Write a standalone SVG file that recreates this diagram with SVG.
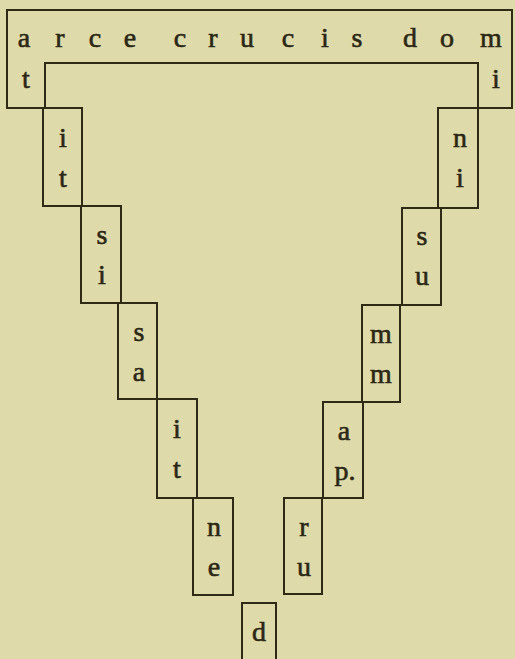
<svg xmlns="http://www.w3.org/2000/svg" width="515" height="659" viewBox="0 0 515 659">
<style>
.ln{fill:none;stroke:#2e2a16;stroke-width:2;stroke-linejoin:miter}
.t{font-family:"Liberation Serif","Times New Roman",serif;font-size:28px;fill:#2b2715;stroke:#2b2715;stroke-width:0.6;text-anchor:middle}
</style>
<rect width="515" height="659" fill="#dedaa9"/>
<g id="top">
<path class="ln" d="M7,10 H512 V108 H478 V63 H45 V108 H7 Z"/>
<text class="t" x="24" y="47">a</text>
<text class="t" x="60" y="47">r</text>
<text class="t" x="95" y="47">c</text>
<text class="t" x="130" y="47">e</text>
<text class="t" x="180" y="47">c</text>
<text class="t" x="213" y="47">r</text>
<text class="t" x="247" y="47">u</text>
<text class="t" x="288" y="47">c</text>
<text class="t" x="325" y="47">i</text>
<text class="t" x="357" y="47">s</text>
<text class="t" x="410" y="47">d</text>
<text class="t" x="447" y="47">o</text>
<text class="t" x="491" y="47">m</text>
<text class="t" x="26" y="88">t</text>
<text class="t" x="496" y="88">i</text>
</g>
<g id="L1"><rect class="ln" x="43" y="108" width="39" height="98"/><text class="t" x="63" y="147">i</text><text class="t" x="63" y="187">t</text></g>
<g id="L2"><rect class="ln" x="81" y="206" width="40" height="97"/><text class="t" x="102" y="244">s</text><text class="t" x="102" y="284">i</text></g>
<g id="L3"><rect class="ln" x="118" y="303" width="39" height="96"/><text class="t" x="139" y="341">s</text><text class="t" x="139" y="381">a</text></g>
<g id="L4"><rect class="ln" x="157" y="399" width="40" height="99"/><text class="t" x="177" y="438">i</text><text class="t" x="177" y="478">t</text></g>
<g id="L5"><rect class="ln" x="193" y="498" width="40" height="97"/><text class="t" x="214" y="536">n</text><text class="t" x="214" y="576">e</text></g>
<g id="D"><path class="ln" d="M242,660 V603 H276 V660"/><text class="t" x="259" y="641">d</text></g>
<g id="R1"><rect class="ln" x="438" y="108" width="40" height="100"/><text class="t" x="460" y="147">n</text><text class="t" x="460" y="187">i</text></g>
<g id="R2"><rect class="ln" x="402" y="208" width="39" height="97"/><text class="t" x="422" y="245">s</text><text class="t" x="422" y="285">u</text></g>
<g id="R3"><rect class="ln" x="362" y="305" width="38" height="97"/><text class="t" x="381" y="343">m</text><text class="t" x="381" y="383">m</text></g>
<g id="R4"><rect class="ln" x="323" y="402" width="40" height="96"/><text class="t" x="344" y="440">a</text><text class="t" x="345" y="480">p.</text></g>
<g id="R5"><rect class="ln" x="284" y="498" width="38" height="96"/><text class="t" x="304" y="536">r</text><text class="t" x="304" y="576">u</text></g>
<g id="connectors"/>
</svg>
